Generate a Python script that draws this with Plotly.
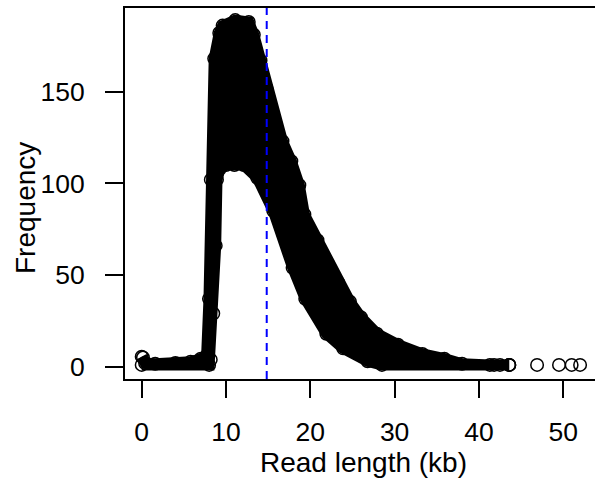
import plotly.graph_objects as go

# Upper envelope of the point cloud (read length kb, frequency)
upper_kb = [0.0, 0.4, 1.6, 4.0, 5.8, 7.0, 7.7, 7.98, 8.2, 8.6, 9.2, 9.6, 11.1, 12.7,
            13.3, 14.1, 14.8, 15.7, 16.7, 17.75, 18.7, 19.3, 20.85, 22.1, 23.3, 24.7,
            26.0, 27.9, 30.4, 33.3, 35.9, 38.0, 41.3, 43.6]
upper_freq = [5.5, 2, 1.6, 2, 2.7, 4.4, 6, 37, 102, 168, 182, 186, 189, 188,
              181, 167, 152, 135, 123, 112, 99, 83, 69, 56, 46, 35.5,
              27, 18, 12, 7, 4.4, 1.6, 1, 1]

# Lower envelope of the point cloud
lower_kb = [0.0, 8.0, 8.19, 8.49, 8.78, 8.93, 9.3, 10.0, 11.0, 12.1, 13.7, 15.6,
            17.9, 19.4, 21.9, 23.9, 26.8, 28.5, 43.6]
lower_freq = [1, 1, 3.8, 29, 66, 102, 108, 110, 110, 110, 103, 85,
              54, 37, 18, 10, 3, 1, 1]

# Isolated points
single_kb = [0.15, 41.8, 42.5, 43.6, 46.9, 49.5, 51.0, 52.0]
single_freq = [5, 1, 1, 1, 1, 1, 1, 1]

mean_kb = 14.83
x_ticks = [0, 10, 20, 30, 40, 50]
y_ticks = [0, 50, 100, 150]

FONT = "Liberation Sans, Arial, Helvetica, sans-serif"

fig = go.Figure()

poly_x = upper_kb + lower_kb[::-1]
poly_y = upper_freq + lower_freq[::-1]
fig.add_trace(go.Scatter(x=poly_x, y=poly_y, mode="lines", fill="toself",
                         fillcolor="black", line=dict(color="black", width=11),
                         hoverinfo="skip", showlegend=False))

for xs, ys in [(upper_kb, upper_freq), (lower_kb, lower_freq), (single_kb, single_freq)]:
    fig.add_trace(go.Scatter(x=xs, y=ys, mode="markers",
                             marker=dict(symbol="circle-open", size=12.5, color="black",
                                         line=dict(width=1.5, color="black")),
                             showlegend=False))

fig.add_shape(type="line", xref="x", yref="paper", x0=mean_kb, x1=mean_kb, y0=0, y1=1,
              line=dict(color="blue", width=2, dash="8px,6px"))

fig.update_xaxes(range=[-1.98, 53.77], tickvals=x_ticks, ticktext=[str(v) for v in x_ticks],
                 ticks="outside", ticklen=17, tickwidth=2, tickcolor="black",
                 ticklabelstandoff=11,
                 showline=True, linewidth=2, linecolor="black", mirror=True,
                 showgrid=False, zeroline=False,
                 tickfont=dict(family=FONT, size=26.5, color="black"))
fig.update_yaxes(range=[-6.7, 195.6], tickvals=y_ticks, ticktext=[str(v) for v in y_ticks],
                 ticks="outside", ticklen=18, tickwidth=2, tickcolor="black",
                 ticklabelstandoff=15,
                 showline=True, linewidth=2, linecolor="black", mirror=False,
                 showgrid=False, zeroline=False,
                 tickfont=dict(family=FONT, size=26.5, color="black"))

fig.add_annotation(text="Read length (kb)", xref="paper", yref="paper",
                   x=(363 - 125) / 470, y=(379 - 462) / 371, xanchor="center", yanchor="middle",
                   showarrow=False, font=dict(family=FONT, size=28, color="black"))
fig.add_annotation(text="Frequency", xref="paper", yref="paper", textangle=-90,
                   x=(25 - 125) / 470, y=(379 - 208) / 371, xanchor="center", yanchor="middle",
                   showarrow=False, font=dict(family=FONT, size=28, color="black"))

fig.update_layout(width=595, height=481, margin=dict(l=125, r=0, t=8, b=102),
                  plot_bgcolor="white", paper_bgcolor="white")

fig.write_html("out.html")
